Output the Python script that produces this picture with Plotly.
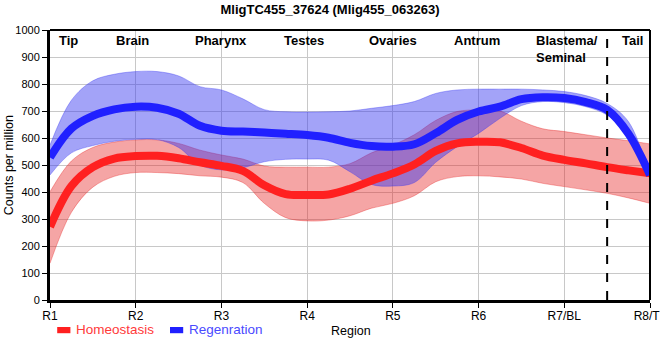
import plotly.graph_objects as go

# ---- data ----
x_pos = [1, 1.25, 1.5, 1.75, 2, 2.25, 2.5, 2.75, 3, 3.25, 3.5, 3.75, 4, 4.25, 4.5,
         4.75, 5, 5.25, 5.5, 5.75, 6, 6.25, 6.5, 6.75, 7, 7.25, 7.5, 7.75, 8]

homeo_mean = [271, 422, 492, 524, 533, 534, 525, 510, 497, 478, 425, 392, 389, 391, 412,
              442, 469, 502, 552, 580, 586, 584, 563, 535, 519, 506, 492, 480, 469]
homeo_upper = [401, 515, 565, 585, 593, 593, 580, 555, 537, 522, 496, 492, 492, 492, 505,
               545, 574, 612, 665, 698, 704, 700, 662, 634, 624, 612, 600, 590, 578]
homeo_lower = [136, 325, 418, 458, 472, 472, 468, 460, 455, 435, 358, 305, 293, 296, 312,
               340, 358, 386, 438, 457, 460, 456, 448, 432, 420, 408, 395, 378, 358]

regen_mean = [528, 635, 682, 706, 716, 712, 690, 645, 627, 624, 620, 616, 611, 601, 582,
              570, 568, 577, 618, 667, 698, 716, 744, 751, 748, 733, 704, 615, 463]
regen_upper = [574, 740, 812, 836, 846, 846, 830, 790, 778, 745, 705, 697, 696, 697, 700,
               710, 720, 735, 765, 778, 781, 781, 781, 778, 772, 757, 728, 660, 455]
regen_lower = [463, 545, 572, 588, 595, 594, 565, 500, 482, 490, 512, 521, 522, 518, 475,
               428, 422, 435, 510, 568, 617, 673, 720, 735, 731, 716, 685, 610, 450]

tick_vals = [1, 2, 3, 4, 5, 6, 7, 8]
tick_text = ["R1", "R2", "R3", "R4", "R5", "R6", "R7/BL", "R8/TL"]

region_names = ["Tip", "Brain", "Pharynx", "Testes", "Ovaries", "Antrum",
                "Blastema/<br>Seminal", "Tail"]
region_x = [1.22, 1.96, 3.0, 3.96, 5.0, 5.98, 6.65, 7.79]
divider_x = 7.5

series_names = ["Homeostasis", "Regenration"]
title_text = "MligTC455_37624 (Mlig455_063263)"

RED = "#ff2020"
BLUE = "#2020ff"
RED_TEXT = "#ff3a3a"
BLUE_TEXT = "#4a4aff"
RED_FILL = "rgba(230,30,30,0.40)"
BLUE_FILL = "rgba(50,50,240,0.45)"
FONT = "Liberation Sans, Arial"

fig = go.Figure()


def band(upper, lower, fill, edge):
    fig.add_trace(go.Scatter(x=x_pos, y=upper, mode="lines", line=dict(color=edge, width=0.8, shape="spline"),
                             showlegend=False, hoverinfo="skip"))
    fig.add_trace(go.Scatter(x=x_pos, y=lower, mode="lines", line=dict(color=edge, width=0.8, shape="spline"),
                             fill="tonexty", fillcolor=fill, showlegend=False, hoverinfo="skip"))


band(homeo_upper, homeo_lower, RED_FILL, "rgba(230,30,30,0.45)")
band(regen_upper, regen_lower, BLUE_FILL, "rgba(50,50,240,0.45)")

fig.add_trace(go.Scatter(x=x_pos, y=homeo_mean, mode="lines", showlegend=False,
                         line=dict(color=RED, width=8, shape="spline"), name=series_names[0]))
fig.add_trace(go.Scatter(x=x_pos, y=regen_mean, mode="lines", showlegend=False,
                         line=dict(color=BLUE, width=8, shape="spline"), name=series_names[1]))

# dashed divider
fig.add_shape(type="line", x0=divider_x, x1=divider_x, y0=0, y1=1, yref="paper",
              line=dict(color="black", width=2, dash="dash"))
# top/right frame
fig.add_shape(type="line", x0=0, x1=1, y0=1, y1=1, xref="paper", yref="paper",
              line=dict(color="black", width=2))
fig.add_shape(type="line", x0=1, x1=1, y0=0, y1=1, xref="paper", yref="paper",
              line=dict(color="black", width=2))

for name, xv in zip(region_names, region_x):
    fig.add_annotation(x=xv, y=0.995, yref="paper", text="<b>%s</b>" % name, showarrow=False,
                       yanchor="top", xanchor="center" if "<br>" not in name else "left", align="left",
                       font=dict(size=13, color="black", family=FONT))

# legend drawn manually (small swatches like the reference)
legend_items = [(series_names[0], RED, RED_TEXT, 0.012), (series_names[1], BLUE, BLUE_TEXT, 0.200)]
for name, col, tcol, lx in legend_items:
    fig.add_shape(type="rect", xref="paper", yref="paper", x0=lx, x1=lx + 0.022,
                  y0=-0.123, y1=-0.100, fillcolor=col, line=dict(width=0))
    fig.add_annotation(xref="paper", yref="paper", x=lx + 0.028, y=-0.111, text=name,
                       showarrow=False, xanchor="left", yanchor="middle",
                       font=dict(size=13.5, color=tcol, family=FONT))

fig.add_annotation(xref="paper", yref="paper", x=0.502, y=-0.115, text="Region", showarrow=False,
                   xanchor="center", yanchor="middle", font=dict(size=12.5, color="black", family=FONT))
fig.add_annotation(xref="paper", yref="paper", x=-0.068, y=0.5, text="Counts per million", showarrow=False,
                   textangle=-90, xanchor="center", yanchor="middle",
                   font=dict(size=12.5, color="black", family=FONT))

fig.update_layout(
    width=660, height=360,
    margin=dict(l=50, r=10, t=30, b=60),
    paper_bgcolor="white", plot_bgcolor="white",
    title=dict(text="<b>%s</b>" % title_text, x=0.5, xanchor="center", y=0.987, yanchor="top",
               font=dict(size=13, color="black", family=FONT)),
    font=dict(family=FONT, size=11, color="black"),
    showlegend=False,
    xaxis=dict(range=[1, 8], tickvals=tick_vals, ticktext=tick_text, showgrid=True,
               gridcolor="#c8c8c8", gridwidth=1, showline=True, linecolor="black", linewidth=3,
               ticks="outside", ticklen=5, tickcolor="black", zeroline=False, automargin=False,
               ticklabeloverflow="allow", ticklabelstandoff=-2,
               tickfont=dict(size=12, color="black")),
    yaxis=dict(range=[0, 1000], dtick=100, showgrid=True, gridcolor="#c8c8c8", gridwidth=1,
               showline=True, linecolor="black", linewidth=3, ticks="outside", ticklen=5,
               tickcolor="black", zeroline=False, automargin=False,
               tickfont=dict(size=11, color="black")),
)

fig.write_html("out.html", config={"displayModeBar": False},
               post_script="document.body.style.margin='0';document.body.style.padding='0';")
